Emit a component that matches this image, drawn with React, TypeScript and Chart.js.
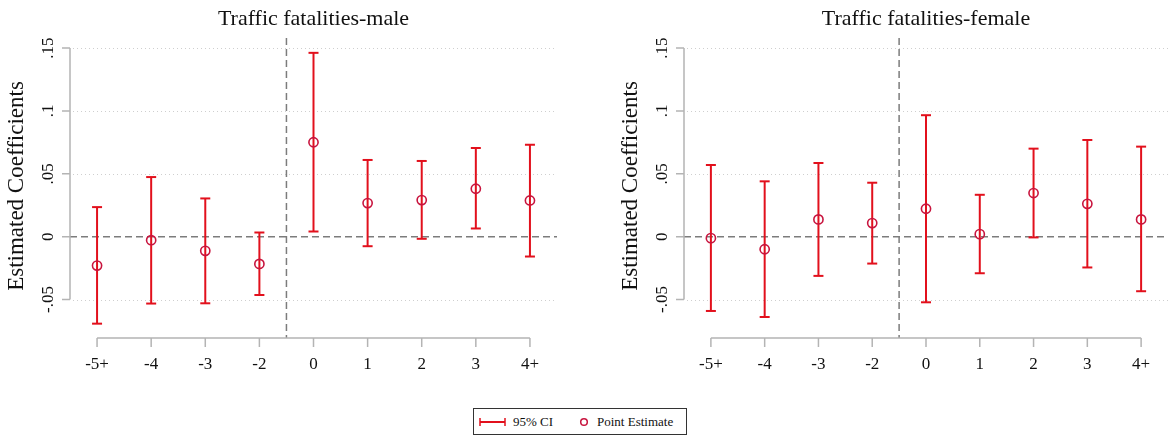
import React, { useEffect, useRef } from "react";
import { Chart, registerables } from "chart.js";

Chart.register(...registerables);

// ---------- data ----------
const categories = ["-5+", "-4", "-3", "-2", "0", "1", "2", "3", "4+"];
const yTickValues = [-0.05, 0, 0.05, 0.1, 0.15];
const yTickLabels = ["-.05", "0", ".05", ".1", ".15"];
const eventLineX = 3.5;
const yMin = -0.0806;
const yMax = 0.158;

const maleTitle = "Traffic fatalities-male";
const maleEstimate = [-0.023, -0.0028, -0.0113, -0.0217, 0.0751, 0.0267, 0.0291, 0.0381, 0.0288];
const maleLower = [-0.0692, -0.0532, -0.053, -0.0464, 0.0041, -0.0076, -0.0017, 0.0065, -0.0158];
const maleUpper = [0.0235, 0.0474, 0.0304, 0.0033, 0.1462, 0.061, 0.0602, 0.0705, 0.0731];

const femaleTitle = "Traffic fatalities-female";
const femaleEstimate = [-0.0012, -0.01, 0.0137, 0.0108, 0.0222, 0.002, 0.0347, 0.0261, 0.0137];
const femaleLower = [-0.0591, -0.0639, -0.0312, -0.0214, -0.0522, -0.0291, -0.0006, -0.0245, -0.0434];
const femaleUpper = [0.057, 0.044, 0.0586, 0.0429, 0.0966, 0.0333, 0.07, 0.0769, 0.0716];

const yAxisTitle = "Estimated Coefficients";
const legendLabels = ["95% CI", "Point Estimate"];

// ---------- style ----------
const FONT = '"Liberation Serif", "Times New Roman", Times, serif';
const CI_COLOR = "#e2101c";
const PT_COLOR = "#c8143e";
const AXIS_COLOR = "#b4b4b4";
const REF_COLOR = "#7c7c7c";
const GRID_COLOR = "#cfcfcf";

const stataPlugin = {
  id: "stata",
  beforeDatasetsDraw(chart: any, _args: any, opts: any) {
    const { ctx, chartArea: a, scales } = chart;
    const x = scales.x;
    const y = scales.y;
    ctx.save();
    // dotted grid lines
    ctx.strokeStyle = GRID_COLOR;
    ctx.lineWidth = 1;
    ctx.setLineDash([1, 3]);
    yTickValues.forEach((v) => {
      if (v === 0) return;
      const py = Math.round(y.getPixelForValue(v)) + 0.5;
      ctx.beginPath();
      ctx.moveTo(a.left + 3, py);
      ctx.lineTo(a.right, py);
      ctx.stroke();
    });
    // dashed zero line
    ctx.strokeStyle = REF_COLOR;
    ctx.lineWidth = 1.5;
    ctx.setLineDash([7, 4]);
    const p0 = y.getPixelForValue(0);
    ctx.beginPath();
    ctx.moveTo(a.left, p0);
    ctx.lineTo(a.right, p0);
    ctx.stroke();
    // dashed event line
    const px = x.getPixelForValue(eventLineX);
    ctx.beginPath();
    ctx.moveTo(px, a.top);
    ctx.lineTo(px, a.bottom);
    ctx.stroke();
    ctx.restore();
  },
  afterDraw(chart: any, _args: any, opts: any) {
    const { ctx, chartArea: a, scales } = chart;
    const x = scales.x;
    const y = scales.y;
    ctx.save();
    ctx.setLineDash([]);
    ctx.strokeStyle = AXIS_COLOR;
    ctx.lineWidth = 1.5;
    // y axis line + ticks
    const yTop = y.getPixelForValue(yTickValues[yTickValues.length - 1]);
    const yBot = y.getPixelForValue(yTickValues[0]);
    ctx.beginPath();
    ctx.moveTo(a.left, yTop);
    ctx.lineTo(a.left, yBot);
    yTickValues.forEach((v) => {
      const py = y.getPixelForValue(v);
      ctx.moveTo(a.left - 8, py);
      ctx.lineTo(a.left, py);
    });
    ctx.stroke();
    // x axis line + ticks
    const xL = x.getPixelForValue(0);
    const xR = x.getPixelForValue(categories.length - 1);
    ctx.beginPath();
    ctx.moveTo(xL, a.bottom);
    ctx.lineTo(xR, a.bottom);
    categories.forEach((_c, i) => {
      const px = x.getPixelForValue(i);
      ctx.moveTo(px, a.bottom);
      ctx.lineTo(px, a.bottom + 9);
    });
    ctx.stroke();
    // y tick labels (rotated)
    ctx.fillStyle = "#111";
    ctx.font = `17px ${FONT}`;
    ctx.textAlign = "center";
    ctx.textBaseline = "alphabetic";
    yTickValues.forEach((v, i) => {
      const py = y.getPixelForValue(v);
      ctx.save();
      ctx.translate(a.left - 17, py);
      ctx.rotate(-Math.PI / 2);
      ctx.fillText(yTickLabels[i], 0, 0);
      ctx.restore();
    });
    // y axis title
    ctx.font = `23px ${FONT}`;
    ctx.save();
    ctx.translate(a.left - 47, (a.top + a.bottom) / 2 - 2);
    ctx.rotate(-Math.PI / 2);
    ctx.fillText(yAxisTitle, 0, 0);
    ctx.restore();
    // panel title
    ctx.font = `22px ${FONT}`;
    ctx.fillText(opts.title, (a.left + a.right) / 2, 25);
    ctx.restore();
  },
};

function buildDatasets(est: number[], lo: number[], hi: number[]) {
  const points = {
    data: categories.map((_c, i) => ({ x: i, y: est[i] })),
    showLine: false,
    pointStyle: "circle",
    pointRadius: 4.6,
    pointBorderWidth: 1.6,
    pointBorderColor: PT_COLOR,
    pointBackgroundColor: "rgba(0,0,0,0)",
  };
  const cis = categories.map((_c, i) => ({
    data: [
      { x: i, y: lo[i] },
      { x: i, y: hi[i] },
    ],
    showLine: true,
    borderColor: CI_COLOR,
    borderWidth: 2,
    pointStyle: "line",
    pointRadius: 5,
    pointBorderWidth: 2,
    pointBorderColor: CI_COLOR,
    pointBackgroundColor: CI_COLOR,
  }));
  return [points, ...cis];
}

function Panel(props: {
  title: string;
  est: number[];
  lo: number[];
  hi: number[];
  left: number;
  width: number;
  yWidth: number;
  padRight: number;
}) {
  const ref = useRef<HTMLCanvasElement>(null);
  useEffect(() => {
    if (!ref.current) return;
    const chart = new Chart(ref.current, {
      type: "scatter",
      data: { datasets: buildDatasets(props.est, props.lo, props.hi) as any },
      options: {
        animation: false,
        responsive: false,
        devicePixelRatio: 1,
        layout: { padding: { top: 38, left: 0, right: props.padRight, bottom: 0 } },
        plugins: {
          legend: { display: false },
          tooltip: { enabled: false },
          stata: { title: props.title },
        } as any,
        scales: {
          x: {
            type: "linear",
            min: -0.5,
            max: categories.length - 0.5,
            grid: { display: false },
            border: { display: false },
            afterBuildTicks: (s: any) => {
              s.ticks = categories.map((_c, i) => ({ value: i }));
            },
            afterFit: (s: any) => {
              s.height = 62;
            },
            ticks: {
              autoSkip: false,
              maxRotation: 0,
              minRotation: 0,
              padding: 8,
              color: "#111",
              font: { family: FONT, size: 17 },
              callback: (_v: any, i: number) => categories[i],
            },
          },
          y: {
            type: "linear",
            min: yMin,
            max: yMax,
            grid: { display: false },
            border: { display: false },
            ticks: { display: false },
            afterBuildTicks: (s: any) => {
              s.ticks = yTickValues.map((v) => ({ value: v }));
            },
            afterFit: (s: any) => {
              s.width = props.yWidth;
            },
          },
        },
      },
      plugins: [stataPlugin as any],
    });
    return () => chart.destroy();
  }, []);
  return (
    <canvas
      ref={ref}
      width={props.width}
      height={400}
      style={{ position: "absolute", left: props.left, top: 0, width: props.width, height: 400 }}
    />
  );
}

function Legend() {
  return (
    <div
      style={{
        position: "absolute",
        left: 473,
        top: 408,
        width: 214,
        height: 27,
        boxSizing: "border-box",
        border: "1px solid #333",
        background: "#fff",
        fontFamily: FONT,
        fontSize: 13,
        color: "#111",
      }}
    >
      <svg width={30} height={10} style={{ position: "absolute", left: 4, top: 8 }}>
        <line x1={2} y1={5} x2={27} y2={5} stroke={CI_COLOR} strokeWidth={2} />
        <line x1={2} y1={1} x2={2} y2={9} stroke={CI_COLOR} strokeWidth={1.5} />
        <line x1={27} y1={1} x2={27} y2={9} stroke={CI_COLOR} strokeWidth={1.5} />
      </svg>
      <span style={{ position: "absolute", left: 39, top: 5, lineHeight: "15px" }}>{legendLabels[0]}</span>
      <svg width={10} height={10} style={{ position: "absolute", left: 105, top: 8 }}>
        <circle cx={5} cy={5} r={3.3} fill="none" stroke={PT_COLOR} strokeWidth={1.5} />
      </svg>
      <span style={{ position: "absolute", left: 123, top: 5, lineHeight: "15px" }}>{legendLabels[1]}</span>
    </div>
  );
}

export default function App() {
  return (
    <div style={{ position: "absolute", left: 0, top: 0, width: 1175, height: 445, background: "#fff" }}>
      <Panel title={maleTitle} est={maleEstimate} lo={maleLower} hi={maleUpper} left={0} width={590} yWidth={70} padRight={33} />
      <Panel title={femaleTitle} est={femaleEstimate} lo={femaleLower} hi={femaleUpper} left={590} width={585} yWidth={94} padRight={6} />
      <Legend />
    </div>
  );
}
